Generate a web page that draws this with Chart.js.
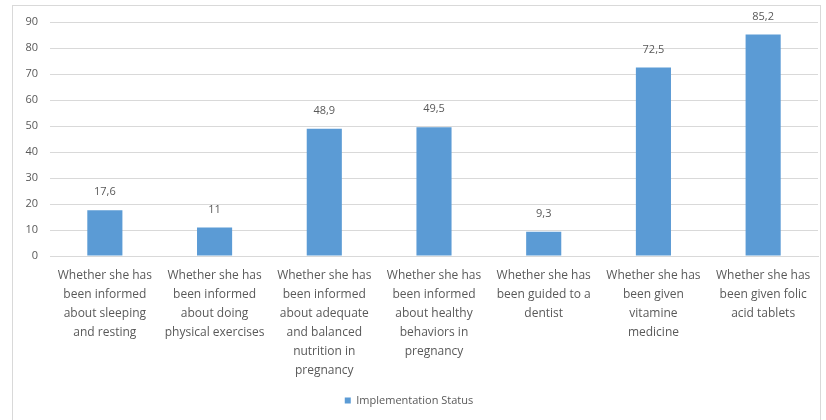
<!DOCTYPE html>
<html>
<head>
<meta charset="utf-8">
<script src="https://cdn.jsdelivr.net/npm/chart.js@4/dist/chart.umd.min.js"></script>
<style>
  html, body { margin: 0; padding: 0; background: #fff; }
  #wrap { width: 826px; height: 420px; position: relative; }
</style>
</head>
<body>
<div id="wrap"><canvas id="chart-1"></canvas></div>
<script>
const categories = [
  ['Whether she has', 'been informed', 'about sleeping', 'and resting'],
  ['Whether she has', 'been informed', 'about doing', 'physical exercises'],
  ['Whether she has', 'been informed', 'about adequate', 'and balanced', 'nutrition in', 'pregnancy'],
  ['Whether she has', 'been informed', 'about healthy', 'behaviors in', 'pregnancy'],
  ['Whether she has', 'been guided to a', 'dentist'],
  ['Whether she has', 'been given', 'vitamine', 'medicine'],
  ['Whether she has', 'been given folic', 'acid tablets']
]
const implementationStatus = [17.6, 11, 48.9, 49.5, 9.3, 72.5, 85.2]
const seriesName = 'Implementation Status'
const yTicks = [0, 10, 20, 30, 40, 50, 60, 70, 80, 90]

const textColor = '#595959'
const barColor = '#5B9BD5'

// frame around the whole chart, like the office export
const framePlugin = {
  id: 'frame',
  beforeDraw(chart) {
    const ctx = chart.ctx
    ctx.save()
    ctx.strokeStyle = '#D9D9D9'
    ctx.lineWidth = 1
    ctx.strokeRect(12.5, 5.5, 808, 420)
    ctx.restore()
  }
}

// value labels above each bar, decimal comma
const valueLabels = {
  id: 'valueLabels',
  afterDatasetsDraw(chart) {
    const ctx = chart.ctx
    const meta = chart.getDatasetMeta(0)
    ctx.save()
    ctx.fillStyle = textColor
    ctx.font = '11px "Open Sans"'
    ctx.textAlign = 'center'
    ctx.textBaseline = 'middle'
    meta.data.forEach((bar, i) => {
      const txt = String(implementationStatus[i]).replace('.', ',')
      ctx.fillText(txt, bar.x, bar.y - 18)
    })
    ctx.restore()
  }
}

const ctx = document.getElementById('chart-1').getContext('2d')
new Chart(ctx, {
  type: 'bar',
  data: {
    labels: categories,
    datasets: [{
      label: seriesName,
      data: implementationStatus,
      backgroundColor: barColor,
      borderWidth: 0,
      barPercentage: 0.32,
      categoryPercentage: 1
    }]
  },
  options: {
    responsive: true,
    maintainAspectRatio: false,
    animation: false,
    layout: { padding: { top: 22, right: 8, left: 0, bottom: 4 } },
    scales: {
      x: {
        grid: { display: false, drawTicks: false },
        border: { display: true, color: '#D9D9D9' },
        ticks: {
          color: textColor,
          font: { family: 'Open Sans', size: 12, lineHeight: 19 / 12 },
          padding: 10,
          maxRotation: 0,
          autoSkip: false
        },
        afterFit(scale) { scale.height = 121 }
      },
      y: {
        min: 0,
        max: 90,
        afterBuildTicks(scale) { scale.ticks = yTicks.map(v => ({ value: v })) },
        grid: { color: '#D9D9D9', drawTicks: false },
        border: { display: false },
        ticks: {
          color: textColor,
          font: { family: 'Open Sans', size: 11 },
          padding: 12
        },
        afterFit(scale) { scale.width = 50 }
      }
    },
    plugins: {
      legend: {
        position: 'bottom',
        labels: {
          color: textColor,
          font: { family: 'Open Sans', size: 11 },
          boxWidth: 6,
          boxHeight: 6,
          padding: 18
        }
      },
      tooltip: { enabled: false }
    }
  },
  plugins: [framePlugin, valueLabels]
})
</script>
</body>
</html>
